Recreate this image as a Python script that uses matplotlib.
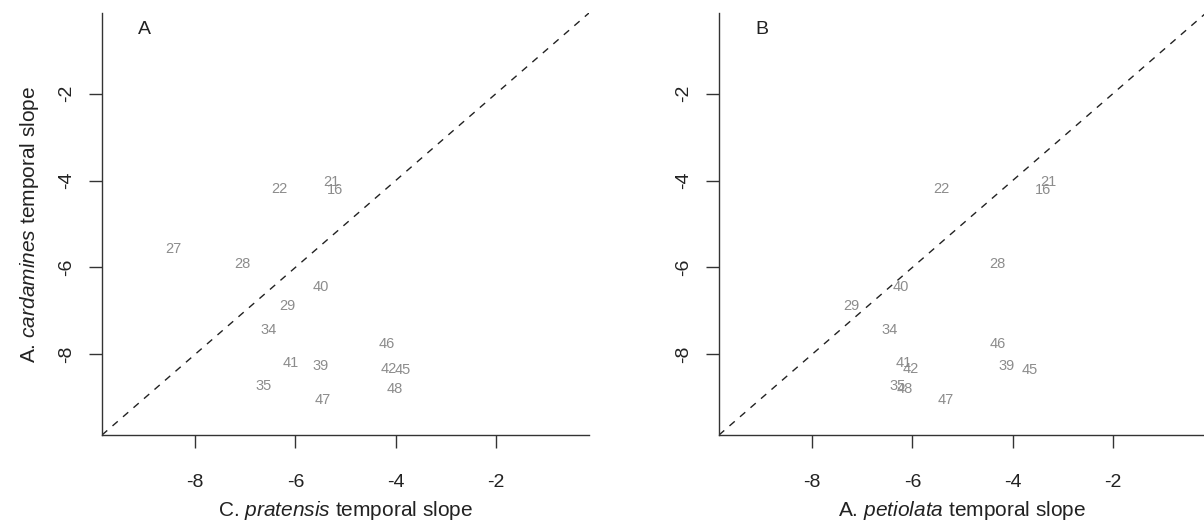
import matplotlib
matplotlib.use("Agg")
import matplotlib.pyplot as plt

plt.rcParams['font.family'] = ['Liberation Sans', 'DejaVu Sans']
plt.rcParams['mathtext.fontset'] = 'custom'
plt.rcParams['mathtext.rm'] = 'Liberation Sans'
plt.rcParams['mathtext.it'] = 'Liberation Sans:italic'

# --- data ---
# site ids and A. cardamines temporal slope (shared y)
sites = ["22", "21", "16", "27", "28", "40", "29", "34",
         "46", "41", "39", "42", "45", "35", "48", "47"]
y_card = [-4.20, -4.03, -4.22, -5.58, -5.93, -6.44, -6.90, -7.45,
          -7.77, -8.20, -8.28, -8.34, -8.36, -8.73, -8.80, -9.05]

# panel A: C. pratensis temporal slope
x_prat = [-6.32, -5.28, -5.21, -8.44, -7.06, -5.49, -6.16, -6.54,
          -4.18, -6.10, -5.50, -4.13, -3.86, -6.64, -4.01, -5.46]

# panel B: A. petiolata temporal slope (site 27 missing)
x_peti = [-5.43, -3.28, -3.40, None, -4.30, -6.23, -7.21, -6.45,
          -4.29, -6.18, -4.12, -6.03, -3.65, -6.30, -6.15, -5.34]

ticks = [-8, -6, -4, -2]
lims = (-9.86, -0.14)

panels = [
    ("A", x_prat, "C. $\\it{pratensis}$ temporal slope"),
    ("B", x_peti, "A. $\\it{petiolata}$ temporal slope"),
]

fig = plt.figure(figsize=(12.04, 5.27), dpi=100)
lefts = [102 / 1204, 719 / 1204]

for (letter, xs, xlabel), left in zip(panels, lefts):
    ax = fig.add_axes([left, 92 / 527, 487 / 1204, 422 / 527])
    ax.set_xlim(lims)
    ax.set_ylim(lims)
    # 1:1 reference line
    ax.axline((-5, -5), slope=1, color="#222222", lw=1.0,
              linestyle=(0, (5, 5)))
    for s, x, y in zip(sites, xs, y_card):
        if x is None:
            continue
        ax.text(x, y, s, color="#8c8c8c", fontsize=10.5,
                ha="center", va="center")
    ax.set_xticks(ticks)
    ax.set_yticks(ticks)
    ax.set_xticklabels([str(t) for t in ticks])
    ax.set_yticklabels([str(t) for t in ticks], rotation=90, va="center")
    for side in ["top", "right"]:
        ax.spines[side].set_visible(False)
    for side in ["left", "bottom"]:
        ax.spines[side].set_color("#333333")
        ax.spines[side].set_linewidth(1.0)
    ax.tick_params(axis="both", length=9.5, width=1.0, color="#333333",
                   labelsize=14, labelcolor="#222222")
    ax.tick_params(axis="x", pad=18.5)
    ax.tick_params(axis="y", pad=10)
    ax.set_xlabel(xlabel, fontsize=15, color="#222222", labelpad=6)
    if letter == "A":
        ax.set_ylabel("A. $\\it{cardamines}$ temporal slope", fontsize=15,
                      color="#222222", labelpad=12.5)
    ax.text(0.088, 0.96, letter, transform=ax.transAxes, fontsize=14,
            color="#222222", ha="center", va="center")

fig.savefig("out.png", dpi=100)
